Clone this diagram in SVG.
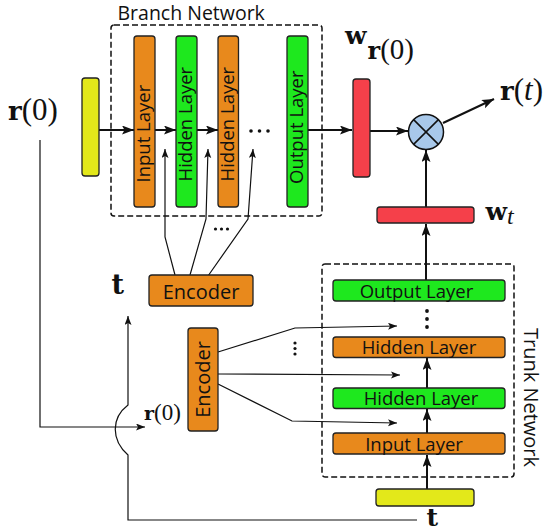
<svg xmlns="http://www.w3.org/2000/svg" width="546" height="531" viewBox="0 0 546 531">
<defs>
<style>
.lbl{font-family:"Open Sans","Noto Sans","DejaVu Sans",sans-serif;fill:#111}
.math{font-family:"Liberation Serif","DejaVu Serif",serif;fill:#111}
.b{font-family:"DejaVu Serif","Liberation Serif",serif;font-weight:bold}
.box{stroke:#222;stroke-width:1.3}
.orange{fill:#e8891c}
.green{fill:#1ee81e}
.yellow{fill:#e3e81a}
.red{fill:#f5404a}
.dash{fill:none;stroke:#111;stroke-width:1.5;stroke-dasharray:6 3}
.thick{fill:none;stroke:#111;stroke-width:2}
.thin{fill:none;stroke:#111;stroke-width:1.2}
</style>
<marker id="ah" markerUnits="userSpaceOnUse" markerWidth="13" markerHeight="10" refX="12" refY="4.5" orient="auto">
<path d="M0,0 L12,4.5 L0,9 L2.5,4.5 z" fill="#111"/>
</marker>
<marker id="ahs" markerUnits="userSpaceOnUse" markerWidth="10" markerHeight="8" refX="9" refY="3.5" orient="auto">
<path d="M0,0 L9,3.5 L0,7 L2,3.5 z" fill="#111"/>
</marker>
</defs>

<g id="branch-frame">
<rect class="dash" x="111" y="25" width="211" height="191" rx="3"/>
<text class="lbl" x="117.5" y="19.5" font-size="19.5">Branch Network</text>
</g>

<g id="trunk-frame">
<rect class="dash" x="322" y="264" width="192" height="213" rx="3"/>
<text class="lbl" font-size="20" transform="translate(523.5,328) rotate(90)">Trunk Network</text>
</g>

<g id="connectors">
<line class="thick" x1="99" y1="130" x2="134" y2="130" marker-end="url(#ah)"/>
<line class="thick" x1="155" y1="130" x2="176" y2="130" marker-end="url(#ah)"/>
<line class="thick" x1="197" y1="130" x2="218" y2="130" marker-end="url(#ah)"/>
<line class="thick" x1="308" y1="130" x2="352" y2="130" marker-end="url(#ah)"/>
<line class="thick" x1="370" y1="131" x2="408" y2="131" marker-end="url(#ah)"/>
<line class="thick" x1="443" y1="123" x2="494" y2="99" marker-end="url(#ah)"/>
<line class="thick" x1="426" y1="207" x2="426" y2="150" marker-end="url(#ah)"/>
<line class="thick" x1="426" y1="280" x2="426" y2="224" marker-end="url(#ah)"/>
<line class="thick" x1="427" y1="489" x2="427" y2="455" marker-end="url(#ah)"/>
<line class="thick" x1="427" y1="433" x2="427" y2="409" marker-end="url(#ah)"/>
<line class="thick" x1="427" y1="388" x2="427" y2="358" marker-end="url(#ah)"/>
<polyline class="thin" points="175,275 165,237 165,149" marker-end="url(#ahs)"/>
<polyline class="thin" points="190,275 206,219 208,149" marker-end="url(#ahs)"/>
<polyline class="thin" points="208,276 248,219 253,149" marker-end="url(#ahs)"/>
<polyline class="thin" points="218,352 295,328 397,326" marker-end="url(#ahs)"/>
<polyline class="thin" points="218,374 400,375" marker-end="url(#ahs)"/>
<polyline class="thin" points="218,384 292,421 397,423" marker-end="url(#ahs)"/>
<polyline class="thin" points="40,140 40,427 145,427" marker-end="url(#ahs)"/>
<path class="thin" d="M417,520 L128,520 L128,455 C111,440 111,418 128,405 L128,316" marker-end="url(#ahs)"/>
<g fill="#111">
<circle cx="251" cy="131" r="1.8"/><circle cx="259.5" cy="131" r="1.8"/><circle cx="268" cy="131" r="1.8"/>
<circle cx="215.5" cy="229" r="1.6"/><circle cx="221.5" cy="229" r="1.6"/><circle cx="227.5" cy="229" r="1.6"/>
<circle cx="427" cy="311" r="1.9"/><circle cx="427" cy="319" r="1.9"/><circle cx="427" cy="327" r="1.9"/>
<circle cx="295" cy="343" r="1.6"/><circle cx="295" cy="348.5" r="1.6"/><circle cx="295" cy="354" r="1.6"/>
</g>
</g>

<g id="input-r0">
<rect class="box yellow" x="82" y="78" width="17" height="98" rx="3"/>
</g>
<g id="branch-input">
<rect class="box orange" x="134" y="36" width="21" height="171" rx="3"/>
<text class="lbl" font-size="18.5" transform="translate(149.5,182.5) rotate(-90)">Input Layer</text>
</g>
<g id="branch-hidden1">
<rect class="box green" x="176" y="36" width="21" height="171" rx="3"/>
<text class="lbl" font-size="18.5" transform="translate(191.5,181.5) rotate(-90)">Hidden Layer</text>
</g>
<g id="branch-hidden2">
<rect class="box orange" x="218" y="36" width="20.5" height="171" rx="3"/>
<text class="lbl" font-size="18.5" transform="translate(233.5,181.5) rotate(-90)">Hidden Layer</text>
</g>
<g id="branch-output">
<rect class="box green" x="287" y="36" width="21" height="171" rx="3"/>
<text class="lbl" font-size="18.5" transform="translate(302.5,184) rotate(-90)">Output Layer</text>
</g>
<g id="w-r0">
<rect class="box red" x="353" y="79" width="17" height="98" rx="3"/>
<text class="math" x="345" y="44"><tspan class="b" font-size="25">w</tspan><tspan class="b" font-size="24" dx="1" dy="15">r</tspan><tspan font-size="29">(0)</tspan></text>
</g>
<g id="multiply">
<circle cx="426" cy="132" r="17.5" fill="#a8c8ea" stroke="#111" stroke-width="1.5"/>
<path d="M413.6,119.6 L438.4,144.4 M438.4,119.6 L413.6,144.4" stroke="#111" stroke-width="1.5"/>
</g>
<g id="output-rt">
<text class="math" x="500" y="100" font-size="31"><tspan class="b" font-size="26">r</tspan>(<tspan font-style="italic">t</tspan>)</text>
</g>
<g id="w-t">
<rect class="box red" x="377" y="207" width="97" height="16" rx="3"/>
<text class="math" x="485.5" y="220"><tspan class="b" font-size="25">w</tspan><tspan font-size="24" font-style="italic" dy="4">t</tspan></text>
</g>
<g id="label-r0">
<text class="math" x="8" y="120" font-size="31"><tspan class="b" font-size="26">r</tspan>(0)</text>
</g>
<g id="encoder-branch">
<rect class="box orange" x="149" y="275" width="104" height="31" rx="3"/>
<text class="lbl" x="201" y="298.5" font-size="20" text-anchor="middle">Encoder</text>
</g>
<g id="label-t">
<text class="math b" x="111.5" y="294" font-size="27">t</text>
</g>
<g id="encoder-trunk">
<rect class="box orange" x="188" y="328" width="30" height="103" rx="3"/>
<text class="lbl" font-size="20" text-anchor="middle" transform="translate(209.5,379.5) rotate(-90)">Encoder</text>
</g>
<g id="label-r0-small">
<text class="math" x="144" y="420" font-size="23"><tspan class="b" font-size="19">r</tspan>(0)</text>
</g>
<g id="trunk-output">
<rect class="box green" x="333" y="280" width="172" height="21" rx="3"/>
<text class="lbl" x="416.5" y="297.5" font-size="18.5" text-anchor="middle">Output Layer</text>
</g>
<g id="trunk-hidden2">
<rect class="box orange" x="333" y="337" width="172" height="20.5" rx="3"/>
<text class="lbl" x="419" y="354" font-size="18.5" text-anchor="middle">Hidden Layer</text>
</g>
<g id="trunk-hidden1">
<rect class="box green" x="333" y="388" width="172" height="20.5" rx="3"/>
<text class="lbl" x="421" y="405" font-size="18.5" text-anchor="middle">Hidden Layer</text>
</g>
<g id="trunk-input">
<rect class="box orange" x="333" y="433" width="172" height="21" rx="3"/>
<text class="lbl" x="414" y="450.5" font-size="18.5" text-anchor="middle">Input Layer</text>
</g>
<g id="input-t">
<rect class="box yellow" x="376" y="489" width="98" height="17" rx="3"/>
<text class="math b" x="426.5" y="526" font-size="25">t</text>
</g>
</svg>
